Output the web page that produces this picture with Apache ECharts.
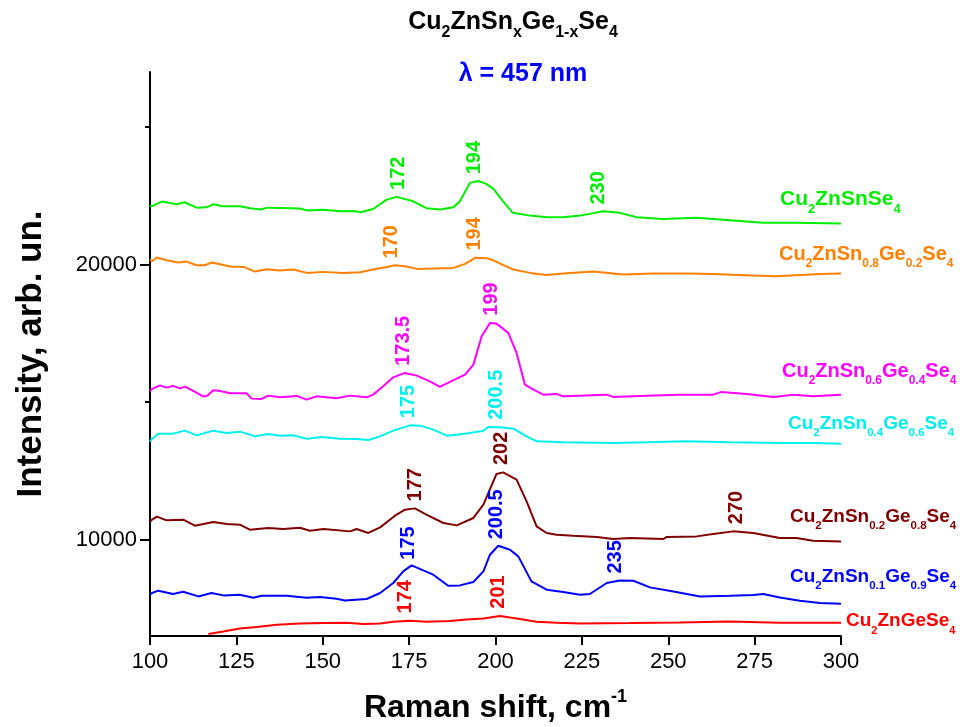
<!DOCTYPE html>
<html>
<head>
<meta charset="utf-8">
<script src="https://cdn.jsdelivr.net/npm/echarts@6/dist/echarts.min.js"></script>
<style>html,body{margin:0;padding:0;background:#fff}#c{width:962px;height:727px}</style>
</head>
<body>
<div id="c"></div>
<script>
// ---------- data ----------
const xTicks = [100, 125, 150, 175, 200, 225, 250, 275, 300];
const yMajorTicks = [10000, 20000];
const yMinorTicks = [15000, 25000];

const cznSe = [[100,22110],[101,22150],[103.5,22290],[107.7,22190],[110,22265],[113.5,22070],[116.4,22080],[118.3,22190],[121,22120],[126,22120],[129,22050],[132,22000],[134,22070],[137.6,22060],[143.4,22040],[145.4,21970],[150,21990],[155,21940],[159,21950],[161,21900],[164.6,22020],[168.5,22360],[171.4,22460],[176.2,22300],[180,22050],[184,22000],[187.8,22080],[189.7,22300],[192.6,22970],[195,23040],[197,22950],[199.3,22770],[202.2,22300],[205,21880],[210,21780],[214.8,21720],[219.6,21720],[224.5,21780],[231.2,21940],[236,21880],[240.9,21720],[248.5,21660],[258.2,21700],[267.8,21610],[277.5,21520],[287,21520],[300,21490]];
const x08 = [[100,20180],[100.6,20120],[102,20255],[104.8,20156],[108.2,20073],[110.6,20109],[113.5,19975],[115.9,19975],[117.8,20073],[120.3,20011],[123.2,19927],[127,19916],[130.4,19745],[133.8,19829],[137.6,19782],[141.5,19818],[145.4,19698],[150.1,19735],[156,19698],[160.8,19720],[164.6,19818],[168.5,19916],[170.9,19975],[174.3,19927],[177.2,19844],[182,19855],[187.8,19880],[191.2,20025],[194.1,20244],[197.5,20229],[199.4,20156],[202,20000],[205.2,19818],[210,19698],[214.8,19625],[219.6,19673],[228.3,19745],[237,19636],[245.7,19673],[255.3,19673],[263,19662],[274.6,19600],[281.4,19575],[293.9,19662],[300,19673]];
const x06 = [[100,15400],[100.6,15480],[102.9,15611],[104.8,15528],[106.7,15590],[108.7,15502],[110.1,15564],[112.5,15408],[115.4,15211],[116.4,15211],[118.3,15430],[120.3,15408],[123.2,15320],[128,15320],[129.4,15128],[132.3,15117],[134.2,15237],[137.6,15175],[142.5,15226],[145.3,15091],[148.2,15211],[154,15139],[157.9,15237],[162.7,15175],[164.6,15273],[167.5,15575],[170.4,15902],[173.8,16062],[177.2,15964],[181,15757],[183.9,15553],[186.8,15735],[191.2,15999],[193.6,16364],[196,17393],[198.4,17880],[200.3,17855],[203.7,17517],[206.1,16789],[208.5,15637],[211.4,15430],[213.8,15273],[217.7,15299],[219.6,15211],[226,15240],[232.2,15273],[234.1,15190],[243.8,15237],[253.4,15273],[263,15273],[265.4,15372],[272.7,15299],[280.4,15190],[286.2,15273],[292,15211],[300,15273]];
const x04 = [[100,13560],[100.6,13662],[102.4,13855],[106.7,13855],[110.1,13964],[113.5,13793],[118.3,13964],[122.2,13880],[126,13928],[130.4,13757],[134.2,13844],[137.6,13782],[141.5,13793],[145.4,13673],[149.7,13735],[155,13673],[159.8,13662],[163.2,13626],[166.6,13757],[170.4,13964],[175.3,14157],[178.2,14146],[182,14000],[185.9,13782],[188.8,13818],[192.6,13880],[196.5,13964],[197.9,14098],[201.3,14084],[205.2,14037],[209,13757],[212,13575],[219.6,13539],[234.1,13517],[243.8,13539],[255.3,13575],[267.9,13539],[282.3,13517],[292,13517],[300,13491]];
const x02 = [[100,10650],[100.6,10728],[102,10837],[104.8,10703],[109.6,10728],[113,10510],[118.3,10644],[122.2,10572],[126,10546],[128.9,10365],[134.2,10427],[138.6,10390],[143.4,10437],[146.3,10328],[150.2,10390],[157.9,10303],[159.8,10390],[163.2,10245],[166.6,10449],[170.9,10874],[173.8,11092],[176.7,11139],[180,10910],[184.9,10608],[188.8,10521],[193.6,10790],[196.5,11273],[200.3,12390],[202.2,12448],[206.1,12183],[209,11393],[211.9,10485],[214.8,10245],[217.7,10183],[222.5,10146],[229.3,10099],[234.1,10026],[239,10062],[248.6,10026],[249.6,10099],[258.2,10121],[263,10208],[268.8,10303],[274.6,10245],[282.3,10062],[287.1,10062],[291.9,9964],[300,9939]];
const x01 = [[100,8000],[100.6,8063],[102.4,8147],[106.7,8027],[109.6,8111],[114,7939],[117.8,8063],[121.2,7976],[126,8001],[129.9,7892],[132.3,7965],[139.6,7965],[145.3,7892],[149.2,7917],[154,7856],[156.4,7794],[162.7,7845],[166.6,8063],[170.4,8426],[173.3,8848],[175.7,9066],[179.1,8885],[182,8728],[186.3,8328],[189.7,8339],[193.6,8463],[196.5,8848],[198.4,9455],[200.8,9782],[204.2,9637],[206.6,9394],[210.4,8485],[214.8,8183],[219.6,8099],[224.5,8001],[227.3,8027],[232.2,8426],[236,8521],[239.9,8510],[244.7,8267],[251.5,8121],[259.2,7939],[267.9,7965],[274.6,7990],[277.5,8027],[282.3,7903],[288.1,7783],[293.9,7699],[300,7674]];
const czgSe = [[116.9,6572],[121.2,6667],[126,6776],[130.9,6827],[136.7,6910],[143.4,6958],[150.2,6972],[156.9,6983],[161.7,6936],[166.6,6958],[170.4,7019],[175.3,7056],[180,7019],[186.8,7045],[191.6,7103],[196.5,7140],[201.3,7227],[206.1,7140],[211.9,7019],[217.7,6983],[224.5,6958],[239,6972],[253.4,6994],[267.9,7030],[282.3,6983],[300,6983]];

const peaksSe = [172, 194, 230];
const peaks08 = [170, 194];
const peaks06 = [173.5, 199];
const peaks04 = [175, 200.5];
const peaks02 = [177, 202, 270];
const peaks01 = [175, 200.5, 235];
const peaksGe = [174, 201];

// names with subscripts marked as {..}
const names = [
  'Cu{2}ZnSnSe{4}',
  'Cu{2}ZnSn{0.8}Ge{0.2}Se{4}',
  'Cu{2}ZnSn{0.6}Ge{0.4}Se{4}',
  'Cu{2}ZnSn{0.4}Ge{0.6}Se{4}',
  'Cu{2}ZnSn{0.2}Ge{0.8}Se{4}',
  'Cu{2}ZnSn{0.1}Ge{0.9}Se{4}',
  'Cu{2}ZnGeSe{4}'
];
const colors = ['#00ee00', '#ff8000', '#ff00ff', '#00f0f0', '#800000', '#0000ff', '#ff0000'];
const seriesData = [cznSe, x08, x06, x04, x02, x01, czgSe];
const seriesPeaks = [peaksSe, peaks08, peaks06, peaks04, peaks02, peaks01, peaksGe];
// label box (left, top) in px and font sizes
const nameBoxes = [[780,192],[779,247],[782,364],[788,417],[790,510],[790,570],[846,614]];
const nameFonts = [[21,13],[20,12],[20,12],[19,11.5],[19,11.5],[19,11.5],[19,11]];

const FONT = 'Liberation Sans, Arial, Helvetica, sans-serif';

function interp(arr, x) {
  for (let i = 0; i < arr.length - 1; i++) {
    if (x >= arr[i][0] && x <= arr[i+1][0]) {
      const t = (x - arr[i][0]) / (arr[i+1][0] - arr[i][0]);
      return arr[i][1] + t * (arr[i+1][1] - arr[i][1]);
    }
  }
  return arr[arr.length-1][1];
}
function toRich(s) {
  let out = '';
  const re = /([^{}]+)|\{([^{}]*)\}/g;
  let m;
  while ((m = re.exec(s)) !== null) {
    if (m[1] !== undefined) out += '{n|' + m[1] + '}';
    else out += '{s|' + m[2] + '}';
  }
  return out;
}
function richFor(color, main, sub) {
  return {
    n: {fontSize: main, fontWeight: 'bold', fontFamily: FONT, color: color, lineHeight: main + 3, verticalAlign: 'bottom', padding: [0,0,6,0]},
    s: {fontSize: sub, fontWeight: 'bold', fontFamily: FONT, color: color, verticalAlign: 'bottom', padding: [0,0,0,0]}
  };
}

const chart = echarts.init(document.getElementById('c'), null, {renderer: 'canvas'});

const series = seriesData.map((d, i) => ({
  type: 'line',
  data: d,
  showSymbol: false,
  symbol: 'none',
  lineStyle: {color: colors[i], width: 2},
  itemStyle: {color: colors[i]},
  z: 2,
  markPoint: {
    symbol: 'circle',
    symbolSize: 1,
    itemStyle: {color: 'rgba(0,0,0,0)'},
    animation: false,
    data: seriesPeaks[i].map(p => ({name: String(p), coord: [p, interp(d, p)]})),
    label: {
      show: true,
      formatter: '{b}',
      rotate: 90,
      position: [0, -7],
      align: 'left',
      verticalAlign: 'middle',
      fontSize: 20,
      fontWeight: 'bold',
      fontFamily: FONT,
      color: colors[i]
    }
  }
}));

const titles = [
  {
    text: toRich('Cu{2}ZnSn{x}Ge{1-x}Se{4}'),
    left: 513, top: 13, textAlign: 'center', padding: 0,
    textStyle: {rich: richFor('#000', 25, 16)}
  },
  {
    text: 'λ = 457 nm',
    left: 523, top: 62, textAlign: 'center', padding: 0,
    textStyle: {fontSize: 25, fontWeight: 'bold', fontFamily: FONT, color: '#0000ff'}
  }
].concat(names.map((nm, i) => ({
  text: toRich(nm),
  left: nameBoxes[i][0], top: nameBoxes[i][1], padding: 0,
  textStyle: {rich: richFor(colors[i], nameFonts[i][0], nameFonts[i][1])}
})));

chart.setOption({
  animation: false,
  backgroundColor: '#fff',
  title: titles,
  grid: {left: 150, right: 121, top: 72, bottom: 91, containLabel: false, outerBoundsMode: 'none'},
  xAxis: {
    type: 'value', min: 100, max: 300, interval: 25,
    axisLine: {show: true, onZero: false, lineStyle: {color: '#000', width: 2}},
    axisTick: {show: true, length: 9, lineStyle: {color: '#000', width: 2}},
    splitLine: {show: false},
    axisLabel: {fontSize: 22, color: '#000', fontFamily: FONT, margin: 15,
      customValues: xTicks, formatter: v => String(v)},
    name: '{a|Raman shift, cm}{b|-1}',
    nameLocation: 'middle', nameGap: 52,
    nameTextStyle: {rich: {
      a: {fontSize: 32, fontWeight: 'bold', fontFamily: FONT, color: '#000', verticalAlign: 'bottom', lineHeight: 36},
      b: {fontSize: 18, fontWeight: 'bold', fontFamily: FONT, color: '#000', verticalAlign: 'top'}
    }}
  },
  yAxis: [
    {
      type: 'value', min: 6500, max: 27000,
      axisLine: {show: true, onZero: false, lineStyle: {color: '#000', width: 2}},
      axisTick: {show: true, length: 10, customValues: yMajorTicks, lineStyle: {color: '#000', width: 2}},
      splitLine: {show: false},
      axisLabel: {fontSize: 22, color: '#000', fontFamily: FONT, margin: 13,
        customValues: yMajorTicks, formatter: v => String(v)},
      name: 'Intensity, arb. un.',
      nameLocation: 'middle', nameGap: 101,
      nameTextStyle: {fontSize: 35, fontWeight: 'bold', fontFamily: FONT, color: '#000'}
    },
    {
      type: 'value', min: 6500, max: 27000, position: 'left',
      axisLine: {show: false},
      axisTick: {show: true, length: 5, customValues: yMinorTicks, lineStyle: {color: '#000', width: 2}},
      splitLine: {show: false},
      axisLabel: {show: false}
    }
  ],
  series: series
});
</script>
</body>
</html>
